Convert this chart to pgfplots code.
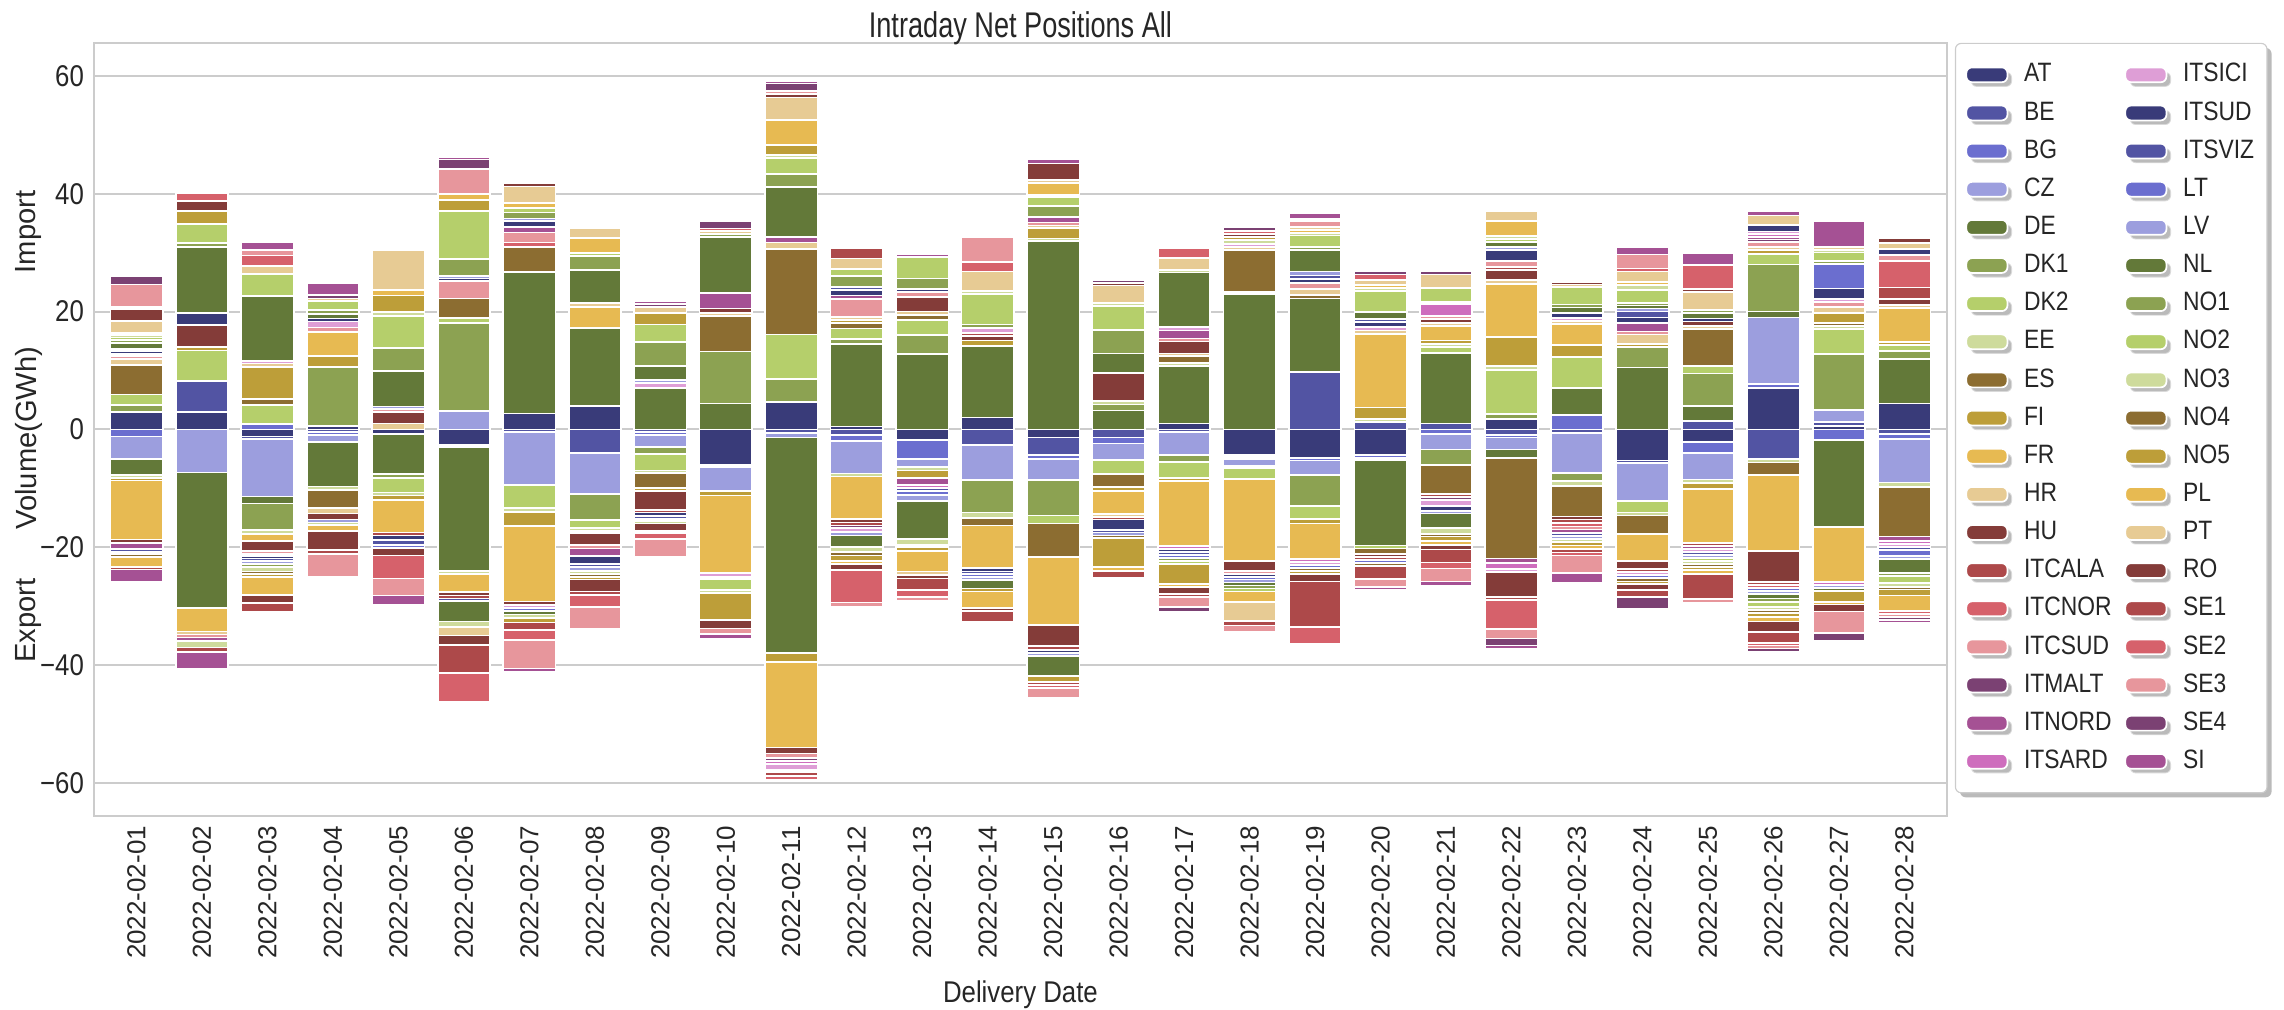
\documentclass[border=0pt]{standalone}
\usepackage{fontspec}
\setmainfont{Liberation Sans}[FakeStretch=0.86]
\newfontfamily\rotfont{Liberation Sans}
\newfontfamily\titlefont{Liberation Sans}[FakeStretch=0.76]
\usepackage{pgfplots}
\usepackage{pgfplotstable}
\pgfplotsset{compat=1.18}
\usetikzlibrary{shadows}

% tab20b, cycled over the 38 zones
\definecolor{colAT}{HTML}{393B79}
\definecolor{colBE}{HTML}{5254A3}
\definecolor{colBG}{HTML}{6B6ECF}
\definecolor{colCZ}{HTML}{9C9EDE}
\definecolor{colDE}{HTML}{637939}
\definecolor{colDK1}{HTML}{8CA252}
\definecolor{colDK2}{HTML}{B5CF6B}
\definecolor{colEE}{HTML}{CEDB9C}
\definecolor{colES}{HTML}{8C6D31}
\definecolor{colFI}{HTML}{BD9E39}
\definecolor{colFR}{HTML}{E7BA52}
\definecolor{colHR}{HTML}{E7CB94}
\definecolor{colHU}{HTML}{843C39}
\definecolor{colITCALA}{HTML}{AD494A}
\definecolor{colITCNOR}{HTML}{D6616B}
\definecolor{colITCSUD}{HTML}{E7969C}
\definecolor{colITMALT}{HTML}{7B4173}
\definecolor{colITNORD}{HTML}{A55194}
\definecolor{colITSARD}{HTML}{CE6DBD}
\definecolor{colITSICI}{HTML}{DE9ED6}
\definecolor{colITSUD}{HTML}{393B79}
\definecolor{colITSVIZ}{HTML}{5254A3}
\definecolor{colLT}{HTML}{6B6ECF}
\definecolor{colLV}{HTML}{9C9EDE}
\definecolor{colNL}{HTML}{637939}
\definecolor{colNO1}{HTML}{8CA252}
\definecolor{colNO2}{HTML}{B5CF6B}
\definecolor{colNO3}{HTML}{CEDB9C}
\definecolor{colNO4}{HTML}{8C6D31}
\definecolor{colNO5}{HTML}{BD9E39}
\definecolor{colPL}{HTML}{E7BA52}
\definecolor{colPT}{HTML}{E7CB94}
\definecolor{colRO}{HTML}{843C39}
\definecolor{colSE1}{HTML}{AD494A}
\definecolor{colSE2}{HTML}{D6616B}
\definecolor{colSE3}{HTML}{E7969C}
\definecolor{colSE4}{HTML}{7B4173}
\definecolor{colSI}{HTML}{A55194}

% net position per zone and day (GWh), x = day index
\pgfplotstableread{
x AT BE BG CZ DE DK1 DK2 EE ES FI FR HR HU ITCALA ITCNOR ITCSUD ITMALT ITNORD ITSARD ITSICI ITSUD ITSVIZ LT LV NL NO1 NO2 NO3 NO4 NO5 PL PT RO SE1 SE2 SE3 SE4 SI
0 2.9 0 -1.2 -3.8 -2.8 1.2 1.8 -0.5 5.0 -0.4 -10.0 1.0 -0.6 0 0 0.5 0.4 -1.0 0 0 0.5 -0.5 -0.4 0.4 1.0 0.5 0.4 0.4 -0.5 0.4 -1.6 2.0 2.0 -0.5 0.4 3.8 1.4 -2.0
1 3.0 5.2 0 -7.3 -23.0 0 5.2 0 0 0.6 -4.0 -0.5 3.7 0 0 -0.5 0 -0.6 0 0 2.0 0 0 0 11.2 0.7 3.2 -1.1 0 2.2 0 0 1.8 -0.8 1.3 0 0 -2.9
2 -1.2 -0.4 0.9 -9.8 -1.2 -4.5 3.2 -0.6 1.0 5.5 -1.2 0.6 -1.7 0 0 -0.5 -0.4 0 0 0.4 -0.4 -0.4 0 -0.5 11.0 -0.5 3.8 -0.8 -0.5 -0.5 -3.0 1.3 -1.4 -1.4 1.8 1.0 0 1.2
3 0.6 -0.4 -0.5 -1.3 -7.5 10.0 0 -0.6 -3.0 1.9 4.0 -1.0 -1.0 0 0 0.8 0 0 0 1.0 0.5 0 0 -0.5 0.8 0.6 1.6 -0.4 0 0 -1.0 0.4 -3.3 -0.6 0 -3.9 0.6 2.0
4 -0.8 0 0 0 -6.8 -0.6 -2.5 -0.5 0 -0.8 -5.5 1.0 2.0 -0.5 0 0.4 0 0 0 0 -0.8 -0.8 -0.5 0.5 6.0 3.9 5.5 0.6 0 2.8 1.0 6.8 -1.3 0 -3.9 -2.9 0 -1.5
5 -2.7 -0.3 0 3.1 -21.0 15.0 0.8 -0.6 3.3 0 -3.0 0 -0.6 -0.5 0 3.0 0 0 0 0 0.4 -0.4 0 0.4 -3.5 2.9 8.2 -1.0 0 1.8 1.1 -1.4 -1.6 -4.7 -5.0 4.2 1.6 0.4
6 2.7 -0.5 0 -9.0 24.0 0 -3.9 -0.6 4.2 -2.4 -12.8 0 -0.6 0 0.8 1.7 0 1.0 0 -0.5 1.0 0 -0.5 0.4 -0.6 1.0 0.8 -0.6 0 -0.8 0.8 2.8 0.6 -1.2 -1.8 -4.8 0 -0.6
7 4.0 -4.0 0 -7.0 13.2 -4.4 -1.4 -0.4 0 -0.4 3.6 0.6 -2.0 0 0 -0.6 0 -1.3 0 0 -1.3 -0.6 0 -0.6 5.6 2.4 0.5 -0.6 -0.5 -0.4 2.6 1.6 -2.0 -0.6 -2.0 -3.8 0 0
8 0 -0.5 -0.5 -2.0 7.0 -1.2 -2.8 -0.4 -2.6 -0.5 0 0 -3.2 -0.4 0 0 0 0 0 0.9 -0.6 -0.5 -0.4 0.5 2.4 4.0 3.0 -0.4 0 2.0 0 1.0 -1.2 -0.4 -1.0 -3.0 0.5 0.4
9 -6.0 -0.4 0 -4.0 4.4 8.8 0 0 6.0 -0.8 -13.2 0.5 0.8 0 0 0 0 2.6 0 -0.6 0 -0.4 0 0 9.5 0.6 -1.9 -0.5 0 -4.6 0 0.5 -1.4 0 0.4 -0.9 1.2 -0.8
10 4.6 -0.6 0 -0.8 -36.5 4.0 7.5 0 14.5 -1.6 -14.5 1.1 -1.0 0 0 -0.8 -0.5 0.9 -0.5 -1.0 0 0 0 -0.4 8.5 2.2 2.8 0.5 0 1.7 4.2 3.8 0.6 -0.6 -0.6 0.5 1.3 0.4
11 0.5 -1.0 -1.0 -5.5 14.0 0.8 1.8 -0.5 1.0 0.5 -7.2 0.5 -0.6 -0.5 0 3.0 -0.5 0.6 0 -0.6 1.0 0.5 0 -0.6 -2.0 1.8 1.2 -0.8 -0.6 -1.0 -0.5 1.8 -1.0 1.8 -5.5 -0.8 0 0
12 -1.8 0 -3.2 -1.4 12.8 3.2 2.6 -0.6 0.8 -1.2 0 0.6 2.5 0 0 0.8 0 -1.2 -0.5 0 0.5 -0.6 -0.6 -1.0 -6.5 1.8 3.6 -1.0 -0.4 -0.6 -3.5 -0.6 -0.6 -2.0 -1.2 -0.6 0 0.6
13 2.0 -2.6 0 -6.0 12.1 -5.5 0 -1.0 -1.2 1.0 -7.2 0 0.8 0.5 0 0 0 0 0 0.8 -0.6 -0.5 -0.5 -0.5 -1.4 0.6 5.2 0.5 0 -0.5 -2.8 3.3 -0.5 -1.8 1.6 4.3 0 0
14 -1.4 -3.0 -0.6 -3.6 32.0 -6.0 -1.4 0.4 -5.7 1.8 -11.5 0.4 -3.6 -0.6 0 0.5 0 1.0 0 0 -0.5 0 0 -0.6 -3.4 1.8 1.5 0.4 0 -1.0 2.0 0.5 2.8 -0.5 -0.5 -1.6 0 0.8
15 0 -1.4 -1.0 -2.8 3.2 1.0 -2.4 0.6 -2.2 -0.6 -4.0 -0.5 4.8 -0.4 0 0 0 0 0 0 -1.8 -0.4 0 -0.5 3.3 4.0 4.0 0.5 -0.4 -5.0 -0.6 3.0 0.5 -1.2 0 0 0.4 0.4
16 1.0 -0.5 0 -3.8 9.8 -1.2 -2.8 0.5 1.1 -0.5 -11.0 0.5 2.0 0 0 0.5 0 1.4 -0.5 0.6 -0.5 -0.5 -0.5 0 9.2 -0.5 -0.5 0.5 0 -3.4 -0.5 2.0 -1.2 -0.5 1.7 -1.8 -0.7 0
17 -4.4 -0.3 -0.3 -1.2 23.0 -0.4 -1.8 0.3 7.2 0 -14.0 0.5 -1.6 0 0 -0.5 0 0 0 0.5 -0.5 0 -0.5 -0.5 -0.5 -0.5 -0.5 0.6 0 0.5 -1.8 -3.2 0.6 -0.8 0.5 -1.0 0.6 0.4
18 -4.8 9.7 -0.5 -2.4 12.5 -5.3 -2.2 0 0.6 -0.8 -6.0 1.0 0 0 0 1.0 0 0 -0.5 -0.5 0.7 0.6 -0.5 0.7 3.6 0.5 2.0 0.4 -0.5 -0.5 0.5 0.6 -1.3 -7.8 -2.8 1.0 0.3 1.0
19 -4.4 1.2 -0.4 -0.4 -14.5 0 -0.5 0.5 -1.0 2.0 12.5 0.6 -0.5 -0.5 0 0 0 0 0 0.6 0.8 0.5 -0.5 0 1.2 0 3.6 0.5 -0.5 0 0.5 0.8 0 -2.2 1.0 -1.4 0.5 -0.5
20 0 1.0 -0.8 -2.6 12.0 -2.6 1.0 0.5 -5.0 0.6 2.4 0.5 0.7 -0.5 0 0.6 -0.5 0 2.0 -1.0 -0.8 0.3 0 -0.5 -2.4 0 2.4 -1.0 -0.5 -0.8 -0.6 2.3 -0.8 -2.2 -1.0 -2.2 0.5 -0.8
21 1.7 -0.9 -0.5 -2.0 -1.5 0.9 7.5 0.6 -17.0 5.0 9.0 0.6 1.8 0.5 0 1.0 0 -0.8 -1.0 -0.5 1.8 0 0 0.6 0.8 0 0.5 0.5 0 0 2.6 1.6 -4.2 -0.5 -5.0 -1.6 -1.2 -0.5
22 0 -0.6 2.4 -6.8 4.6 -1.4 5.3 -0.8 -5.2 2.0 3.6 0.5 -0.5 -0.6 -0.6 -0.5 0 -0.6 0 0.5 0.8 -0.5 0 -0.5 1.0 0.5 3.0 -0.5 0 -0.6 -0.6 0.4 0.4 -0.6 -0.5 -3.0 0.4 -1.6
23 -5.3 -0.4 0 -6.4 10.5 3.5 -2.0 -0.5 -3.2 0.5 -4.5 1.6 -1.4 -0.5 0 0.5 0 1.4 0 -0.5 1.0 1.0 -0.5 0.5 0.5 0.5 2.2 0.8 -0.6 -0.5 0.5 1.8 -1.0 -1.2 0.5 2.4 -2.0 1.2
24 -2.2 1.4 -1.8 -4.5 2.6 5.5 1.2 -0.6 6.3 -1.0 -9.2 0.5 0.8 -0.5 0 0 0 -0.5 0 -0.5 0.5 -0.5 0 -0.5 1.0 0.5 -0.5 -0.5 -0.5 -0.6 -0.6 3.0 0.5 -4.3 4.1 -0.7 0 2.0
25 7.0 -5.0 0.7 11.3 1.0 8.0 1.8 -0.6 -2.2 0.7 -12.8 0.5 -5.3 -0.5 -0.5 0.8 0.4 0.5 0.4 0.5 1.1 0 -0.5 -0.5 -0.8 -0.6 -0.8 -0.6 -0.5 -0.6 -0.8 1.6 -1.8 -1.8 -0.5 -0.5 -0.5 0.8
26 0.6 0.6 -1.8 2.1 -14.8 9.5 4.2 0.5 0.5 1.8 -9.3 1.0 0 0 0 0.8 0 0 -0.5 0.5 1.8 0 4.2 -0.5 -0.5 0.5 1.4 0.4 0 -1.9 -0.4 0.5 -1.2 0 0 -3.6 -1.4 4.4
27 4.4 -0.8 -0.8 -7.4 7.5 1.4 1.0 -0.8 -8.4 0.5 5.8 0.5 1.0 2.0 4.5 1.0 0 -0.8 -0.5 -0.5 1.0 -0.5 -1.0 -0.5 -2.4 -0.5 -1.2 -0.6 -0.5 -1.0 -2.6 1.0 0.8 0 -0.5 -0.5 -0.5 -0.5
}\netpos

\pgfplotsset{
  npbase/.style={
    scale only axis, width=648.6pt, height=270.6pt,
    xmin=-0.65, xmax=27.65, ymin=-65.6, ymax=65.6,
    ybar stacked, bar width=0.8,
  },
  npleg/.style={legend image code/.code={\fill[##1] (0pt,-2.6pt) rectangle (14.4pt,2.6pt);}},
}

\begin{document}
\begin{tikzpicture}
\useasboundingbox (-32.9pt,-67.7pt) rectangle (766.6pt,285.6pt);
% imports stacked upward
\begin{axis}[npbase, name=ax, clip=false,
  axis line style={draw=black!20, line width=0.7pt},
  ymajorgrids, grid style={draw=black!20, line width=0.7pt},
  major tick length=0pt,
  xtick={0,...,27},
  xticklabels={2022-02-01,2022-02-02,2022-02-03,2022-02-04,2022-02-05,2022-02-06,2022-02-07,2022-02-08,2022-02-09,2022-02-10,2022-02-11,2022-02-12,2022-02-13,2022-02-14,2022-02-15,2022-02-16,2022-02-17,2022-02-18,2022-02-19,2022-02-20,2022-02-21,2022-02-22,2022-02-23,2022-02-24,2022-02-25,2022-02-26,2022-02-27,2022-02-28},
  xticklabel style={rotate=90, anchor=east, font=\rotfont\fontsize{9.1}{11}\selectfont, text=black!85},
  ytick={-60,-40,-20,0,20,40,60},
  yticklabels={−60,−40,−20,0,20,40,60},
  yticklabel style={font=\fontsize{10.5}{12}\selectfont, text=black!85},
  xlabel={Delivery Date},
  xlabel style={at={(0.5,0)}, anchor=center, yshift=-62.5pt, font=\fontsize{10.5}{12}\selectfont, text=black!85},
  legend columns=19, transpose legend,
  legend cell align=left,
  legend style={at={(1.0043,1)}, anchor=north west, draw=black!20, fill=white,
    rounded corners=2pt,
    drop shadow={shadow xshift=1.6pt, shadow yshift=-1.6pt, opacity=0.45, fill=black!60},
    font=\fontsize{9.3}{10}\selectfont, text=black!85,
    inner xsep=3.5pt, inner ysep=6pt, row sep=3.35pt,
    /tikz/every odd column/.append style={column sep=4.5pt},
    /tikz/every even column/.append style={column sep=3.5pt},
    nodes={inner sep=1pt, text height=6.5pt, text depth=1.5pt}},
]
\pgfplotsinvokeforeach{AT,BE,BG,CZ,DE,DK1,DK2,EE,ES,FI,FR,HR,HU,ITCALA,ITCNOR,ITCSUD,ITMALT,ITNORD,ITSARD,ITSICI,ITSUD,ITSVIZ,LT,LV,NL,NO1,NO2,NO3,NO4,NO5,PL,PT,RO,SE1,SE2,SE3,SE4,SI}{
  \addplot[fill=col#1, draw=white, line width=0.6pt, npleg]
    table[x=x, y expr={max(\thisrow{#1},0)}] {\netpos};
  \addlegendentry{#1}
}
\node[anchor=base, font=\titlefont\fontsize{12.5}{14}\selectfont, text=black!85] at ([yshift=2pt]rel axis cs:0.5,1) {Intraday Net Positions All};
\node[rotate=90, font=\rotfont\fontsize{10.2}{12}\selectfont, text=black!85] at ([xshift=-22.8pt]axis cs:-0.65,33.5) {Import};
\node[rotate=90, font=\rotfont\fontsize{10.2}{12}\selectfont, text=black!85] at ([xshift=-22.8pt]axis cs:-0.65,-1.5) {Volume(GWh)};
\node[rotate=90, font=\rotfont\fontsize{10.2}{12}\selectfont, text=black!85] at ([xshift=-22.8pt]axis cs:-0.65,-32.5) {Export};
\end{axis}
% exports stacked downward
\begin{axis}[npbase, hide axis]
\pgfplotsinvokeforeach{AT,BE,BG,CZ,DE,DK1,DK2,EE,ES,FI,FR,HR,HU,ITCALA,ITCNOR,ITCSUD,ITMALT,ITNORD,ITSARD,ITSICI,ITSUD,ITSVIZ,LT,LV,NL,NO1,NO2,NO3,NO4,NO5,PL,PT,RO,SE1,SE2,SE3,SE4,SI}{
  \addplot[fill=col#1, draw=white, line width=0.6pt, forget plot]
    table[x=x, y expr={min(\thisrow{#1},0)}] {\netpos};
}
\end{axis}
\end{tikzpicture}
\end{document}
